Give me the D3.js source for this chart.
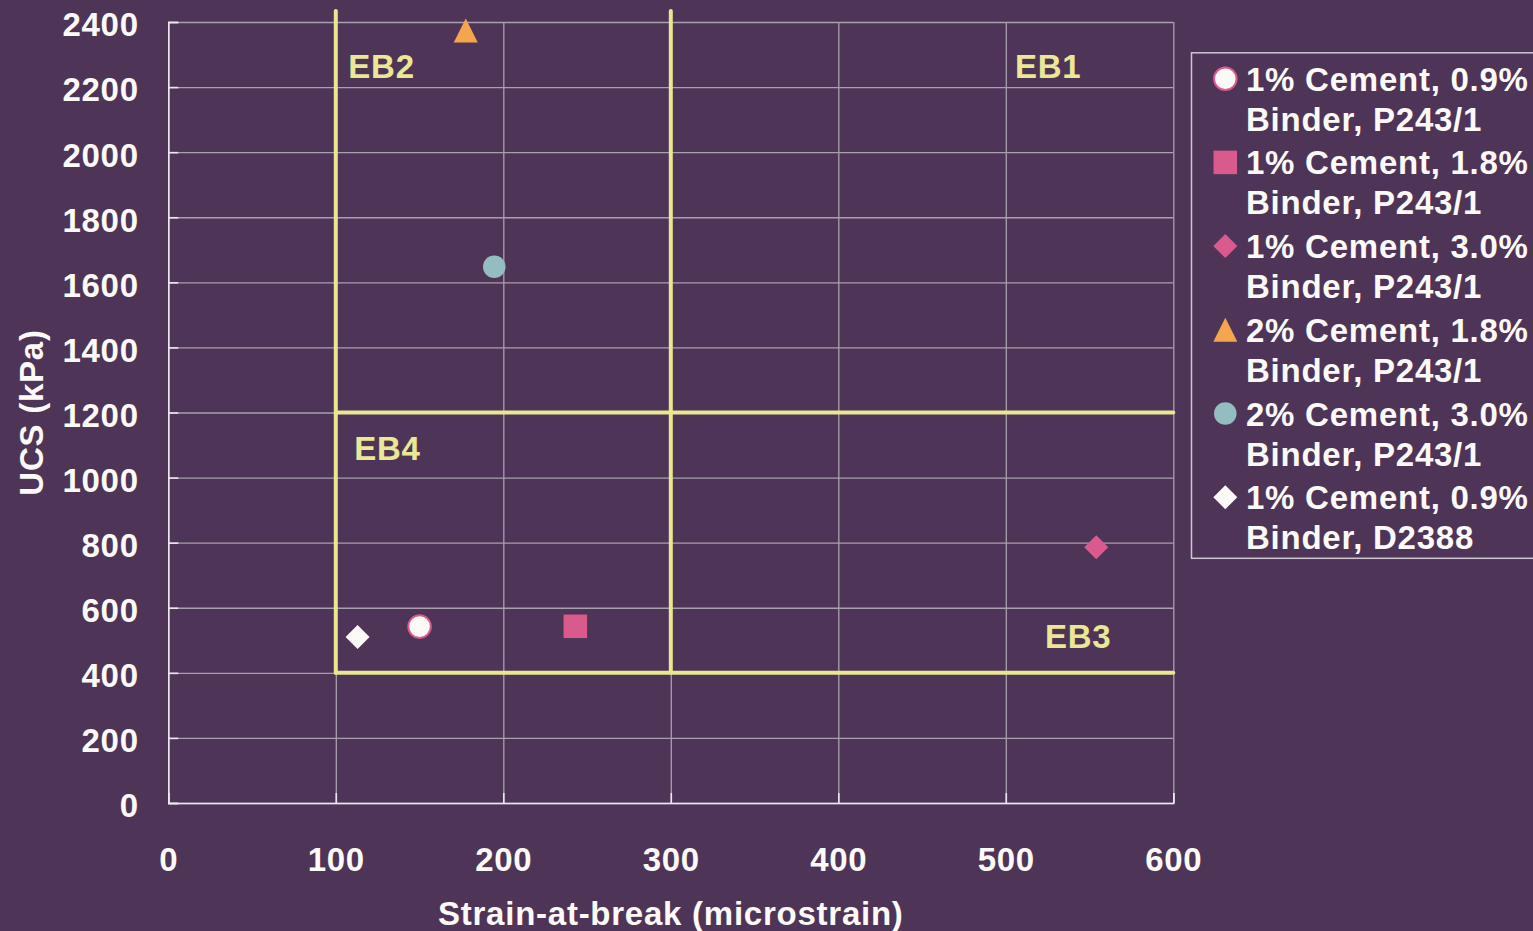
<!DOCTYPE html>
<html><head><meta charset="utf-8">
<script src="https://cdn.jsdelivr.net/npm/d3@7"></script>
<style>html,body{margin:0;padding:0;background:#4e3558;overflow:hidden} text{letter-spacing:0.75px}</style>
</head><body><svg id="c" width="1533" height="931"></svg>
<script>
// ---- data ----
const seriesNames = [
  "1% Cement, 0.9% Binder, P243/1",
  "1% Cement, 1.8% Binder, P243/1",
  "1% Cement, 3.0% Binder, P243/1",
  "2% Cement, 1.8% Binder, P243/1",
  "2% Cement, 3.0% Binder, P243/1",
  "1% Cement, 0.9% Binder, D2388"
];
const seriesX = [150, 243, 554, 177.6, 194.6, 113];   // strain-at-break (microstrain)
const seriesY = [542, 543, 786, 2374, 1648, 510];     // UCS (kPa)
const seriesShapes = ["circle", "square", "diamond", "triangle", "circle", "diamond"];
const seriesFill = ["#fcfaf6", "#d95a8c", "#d95a8c", "#f5a54c", "#93bdc0", "#fcfaf6"];
const seriesStroke = ["#d95a8c", "none", "none", "none", "none", "none"];
const xTicks = [0, 100, 200, 300, 400, 500, 600];
const yTicks = [0, 200, 400, 600, 800, 1000, 1200, 1400, 1600, 1800, 2000, 2200, 2400];
const zoneLines = [[100, 2434, 100, 400], [300, 2434, 300, 400], [100, 1200, 600, 1200], [100, 400, 600, 400]];
const zoneLabels = ["EB2", "EB1", "EB4", "EB3"];
const zoneLabelX = [107.5, 505.5, 111, 523.4];
const zoneLabelY = [2229, 2229, 1054, 477];
const xTitle = "Strain-at-break (microstrain)";
const yTitle = "UCS (kPa)";

// ---- layout ----
const L = 168.3, T = 22, R = 1173.3, B = 803;
const FONT = "'Liberation Sans', Arial, sans-serif";
const WHITE = "#fbfaf7", YEL = "#e9e78f", GRID = "#a99fae";

const svg = d3.select("#c");
svg.append("rect").attr("width", 1533).attr("height", 931).attr("fill", "#4e3558");

const x = d3.scaleLinear().domain([0, 600]).range([L, R]);
const y = d3.scaleLinear().domain([0, 2400]).range([B, T]);

// gridlines
const gy = svg.append("g").attr("transform", `translate(${L},0)`)
  .call(d3.axisLeft(y).tickValues(yTicks).tickSize(-(R - L)).tickFormat(""));
gy.select(".domain").remove();
gy.selectAll("line").attr("stroke", GRID).attr("stroke-width", 1.3);
const gx = svg.append("g").attr("transform", `translate(0,${B})`)
  .call(d3.axisBottom(x).tickValues(xTicks).tickSize(-(B - T)).tickFormat(""));
gx.select(".domain").remove();
gx.selectAll("line").attr("stroke", GRID).attr("stroke-width", 1.3);

// short inner ticks
const ty = svg.append("g").attr("transform", `translate(${L},0)`)
  .call(d3.axisLeft(y).tickValues(yTicks).tickSize(-10).tickFormat(""));
ty.select(".domain").attr("stroke", "#ebe7ee").attr("stroke-width", 1.6);
ty.selectAll("line").attr("stroke", "#ebe7ee").attr("stroke-width", 1.6);
const tx = svg.append("g").attr("transform", `translate(0,${B})`)
  .call(d3.axisBottom(x).tickValues(xTicks).tickSize(-10).tickFormat(""));
tx.select(".domain").attr("stroke", "#ebe7ee").attr("stroke-width", 1.6);
tx.selectAll("line").attr("stroke", "#ebe7ee").attr("stroke-width", 1.6);

// tick labels
const ly = svg.append("g").attr("transform", `translate(${L},0)`)
  .call(d3.axisLeft(y).tickValues(yTicks).tickSize(0).tickPadding(29.5).tickFormat(d3.format("d")));
ly.select(".domain").remove();
ly.selectAll("text").attr("fill", WHITE).attr("font-family", FONT).attr("font-weight", "bold")
  .attr("font-size", 33).attr("dy", "0.42em");
const lx = svg.append("g").attr("transform", `translate(0,${B})`)
  .call(d3.axisBottom(x).tickValues(xTicks).tickSize(0).tickPadding(0).tickFormat(d3.format("d")));
lx.select(".domain").remove();
lx.selectAll("text").attr("fill", WHITE).attr("font-family", FONT).attr("font-weight", "bold")
  .attr("font-size", 33).attr("y", 68).attr("dy", 0);

// axis titles
svg.append("text").attr("x", (L + R) / 2).attr("y", 925).attr("text-anchor", "middle")
  .attr("fill", WHITE).attr("font-family", FONT).attr("font-weight", "bold").attr("font-size", 33)
  .text(xTitle);
svg.append("text").attr("transform", `translate(43,${(T + B) / 2}) rotate(-90)`).attr("text-anchor", "middle")
  .attr("fill", WHITE).attr("font-family", FONT).attr("font-weight", "bold").attr("font-size", 33)
  .text(yTitle);

// zone lines
svg.append("g").selectAll("line").data(zoneLines).join("line")
  .attr("x1", d => x(d[0])).attr("y1", d => y(d[1]))
  .attr("x2", d => x(d[2])).attr("y2", d => y(d[3]))
  .attr("stroke", YEL).attr("stroke-width", 4).attr("stroke-linecap", "round");

// zone labels
svg.append("g").selectAll("text").data(zoneLabels).join("text")
  .attr("x", (d, i) => x(zoneLabelX[i])).attr("y", (d, i) => y(zoneLabelY[i]))
  .attr("fill", "#ebe796").attr("font-family", FONT).attr("font-weight", "bold").attr("font-size", 33)
  .text(d => d);

// symbols (size = bounding box width)
const shapes = {
  circle: { draw(ctx, s) { const r = s * 0.47; ctx.moveTo(r, 0); ctx.arc(0, 0, r, 0, 2 * Math.PI); } },
  square: { draw(ctx, s) { const h = s * 0.49; ctx.rect(-h, -h, 2 * h, 2 * h); } },
  diamond: { draw(ctx, s) { const h = s * 0.5; ctx.moveTo(0, -h); ctx.lineTo(h, 0); ctx.lineTo(0, h); ctx.lineTo(-h, 0); ctx.closePath(); } },
  triangle: { draw(ctx, s) { const h = s * 0.5; ctx.moveTo(0, -h); ctx.lineTo(h, h); ctx.lineTo(-h, h); ctx.closePath(); } }
};
const sym = i => d3.symbol().type(shapes[seriesShapes[i]]).size(24)();

svg.append("g").selectAll("path").data(seriesX).join("path")
  .attr("transform", (d, i) => `translate(${x(d)},${y(seriesY[i])})`)
  .attr("d", (d, i) => sym(i))
  .attr("fill", (d, i) => seriesFill[i])
  .attr("stroke", (d, i) => seriesStroke[i]).attr("stroke-width", 2);

// legend
svg.append("rect").attr("x", 1191.5).attr("y", 52.8).attr("width", 400).attr("height", 505.5)
  .attr("fill", "none").attr("stroke", "#cdc6d1").attr("stroke-width", 1.5);
const lg = svg.append("g").selectAll("g").data(seriesNames).join("g")
  .attr("transform", (d, i) => `translate(0,${90.7 + 83.7 * i})`);
lg.append("path").attr("transform", "translate(1225.3,-12)")
  .attr("d", (d, i) => sym(i))
  .attr("fill", (d, i) => seriesFill[i])
  .attr("stroke", (d, i) => seriesStroke[i]).attr("stroke-width", 2);
lg.append("text").attr("x", 1246).attr("y", 0)
  .attr("fill", WHITE).attr("font-family", FONT).attr("font-weight", "bold").attr("font-size", 33)
  .text(d => d.slice(0, d.indexOf(" Binder")));
lg.append("text").attr("x", 1246).attr("y", 40)
  .attr("fill", WHITE).attr("font-family", FONT).attr("font-weight", "bold").attr("font-size", 33)
  .text(d => d.slice(d.indexOf(" Binder") + 1));
</script>
</body></html>
